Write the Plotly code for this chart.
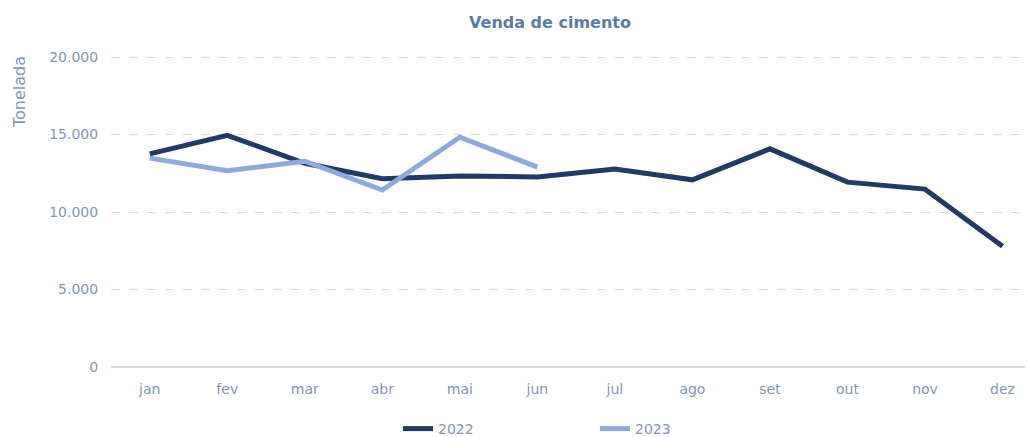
import plotly.graph_objects as go

months = ["jan", "fev", "mar", "abr", "mai", "jun", "jul", "ago", "set", "out", "nov", "dez"]
v2022 = [13750, 14950, 13150, 12150, 12320, 12270, 12780, 12080, 14080, 11930, 11480, 7800]
v2023 = [13480, 12660, 13280, 11420, 14830, 12900]
yticks = [0, 5000, 10000, 15000, 20000]

C2022 = "#213a66"
C2023 = "#8eaadc"
TXT = "#7f97b6"
FONT = "DejaVu Sans"

L, R, T, B = 111, 2, 54, 70
PW, PH = 1027 - L - R, 437 - T - B

fig = go.Figure()
fig.add_trace(go.Scatter(x=list(range(len(v2022))), y=v2022, name="2022", mode="lines",
                         line=dict(color=C2022, width=5)))
fig.add_trace(go.Scatter(x=list(range(len(v2023))), y=v2023, name="2023", mode="lines",
                         line=dict(color=C2023, width=5)))

fig.update_layout(
    width=1027, height=437,
    margin=dict(l=L, r=R, t=T, b=B, autoexpand=False),
    paper_bgcolor="white", plot_bgcolor="white",
    separators=",.",
    font=dict(family=FONT, color=TXT, size=14),
    title=dict(text="<b>Venda de cimento</b>", x=(550 - L) / PW, xref="paper", xanchor="center",
               y=1 - 22 / 437, yanchor="middle",
               font=dict(size=16, color="#5b7ca3", family=FONT)),
    showlegend=True,
    legend=dict(orientation="h", x=(398 - L) / PW, xanchor="left",
                y=-(429 - 367) / PH, yanchor="middle",
                entrywidth=152, entrywidthmode="pixels",
                font=dict(size=14, color=TXT, family=FONT)),
    xaxis=dict(tickmode="array", tickvals=list(range(12)), ticktext=months,
               range=[-0.5, 11.29], showgrid=False, zeroline=False, automargin=False,
               showline=False, ticks="outside", ticklen=9, tickcolor="rgba(0,0,0,0)",
               tickfont=dict(size=14, color=TXT, family=FONT)),
    yaxis=dict(range=[0, 20200], tickvals=yticks, tickformat=",d", automargin=False,
               showgrid=True, gridcolor="#d9d9d9", griddash="dash", gridwidth=1,
               zeroline=True, zerolinecolor="#d9d9d9", zerolinewidth=2,
               ticks="outside", ticklen=9, tickcolor="rgba(0,0,0,0)",
               tickfont=dict(size=14, color=TXT, family=FONT)),
    annotations=[dict(text="Tonelada", x=(19 - L) / PW, y=(437 - B - 92) / PH,
                      xref="paper", yref="paper", xanchor="center", yanchor="middle",
                      showarrow=False, textangle=-90,
                      font=dict(size=16, color=TXT, family=FONT))],
)

fig.write_html("out.html", config={"displayModeBar": False})

# remove the browser's default page margin so the figure sits at (0, 0)
with open("out.html", "r", encoding="utf-8") as f:
    html = f.read()
html = html.replace("<body>", '<body style="margin:0;padding:0;overflow:hidden">', 1)
with open("out.html", "w", encoding="utf-8") as f:
    f.write(html)
